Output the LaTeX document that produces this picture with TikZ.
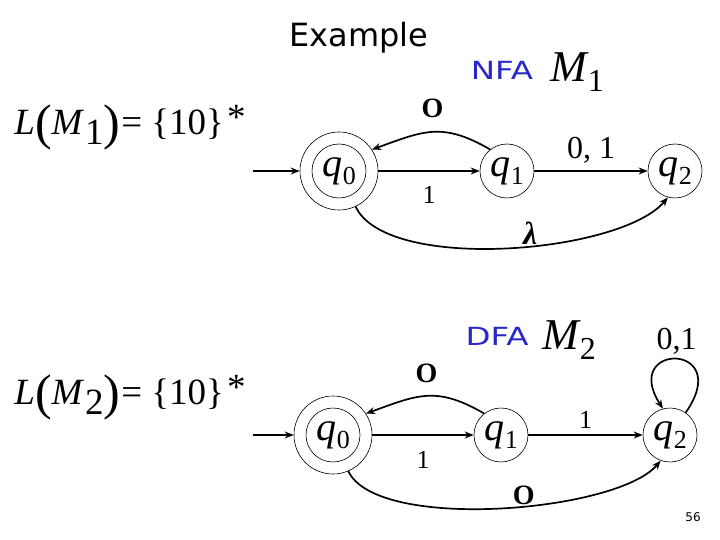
\documentclass[tikz,border=0pt]{standalone}
\usepackage{fontspec}
\setmainfont{Liberation Serif}
\newfontfamily\comicfont{DejaVu Sans}
\usetikzlibrary{arrows.meta}
\definecolor{titleblue}{RGB}{40,40,200}
\newcommand\fsz[1]{\fontsize{#1}{#1}\selectfont}
\newcommand\stname[1]{\textit{q}\kern0.5pt\raisebox{-8pt}{\fsz{26}#1}}
\newcommand\lang[1]{\textit{L}\raisebox{-5pt}{\fsz{50}(}\textit{M}\kern1pt\raisebox{-10pt}{#1}\raisebox{-5pt}{\fsz{50})}\kern1pt= \{10\}\kern3pt\raisebox{5pt}{*}}
\tikzset{
  x=1pt, y=-1pt,
  stnode/.style={circle, draw, line width=0.6pt, minimum size=54pt, inner sep=0pt, font=\fsz{40}},
  accnode/.style={circle, draw, line width=0.6pt, minimum size=78pt, inner sep=0pt},
  arr/.style={line width=1.7pt, -{Stealth[length=9pt,width=7pt]}},
  bitlbl/.style={font=\fsz{26}},
  zerolbl/.style={font=\bfseries\fsz{28}},
  pairlbl/.style={font=\fsz{32}},
  eqn/.style={font=\fsz{37}, inner sep=0pt},
  machlbl/.style={font=\itshape\fsz{44}, inner sep=0pt},
  kindlbl/.style={font=\comicfont\fsz{25}, text=titleblue, inner sep=0pt},
}
\begin{document}
\begin{tikzpicture}
\useasboundingbox (0,0) rectangle (720,540);
% titles
\node[font=\comicfont\fsz{32}, inner sep=0pt] (title) at (359,38) {Example};
\node[kindlbl] (nfa) at (502,70) {\scalebox{1.3}[1]{NFA}};
\node[machlbl] (m1) at (577,72) {M\kern1pt\raisebox{-10pt}{\upshape\fsz{32}1}};
\node[kindlbl] (dfa) at (497,336) {\scalebox{1.3}[1]{DFA}};
\node[machlbl] (m2) at (569,340) {M\kern1pt\raisebox{-10pt}{\upshape\fsz{32}2}};
\node[eqn] (eq1) at (130,127) {\lang{1}};
\node[eqn] (eq2) at (130,397) {\lang{2}};
\node[font=\comicfont\fsz{12}, inner sep=0pt] (page) at (693,517) {56};

% NFA
\node[accnode] (a0) at (339,171) {};
\node[stnode] (a0i) at (a0) {\stname{0}};
\node[stnode] (a1) at (507,171) {\stname{1}};
\node[stnode] (a2) at (675,171) {\stname{2}};
\coordinate (ainit) at (253,171);
\draw[arr] (ainit) -- (a0);
\draw[arr] (a0) -- node[bitlbl, below=11pt] {1} (a1);
\draw[arr] (a1) -- node[pairlbl, above=3pt] {0, 1} (a2);
\draw[arr] (a1.128) to[out=150, in=20, looseness=1.2] node[zerolbl, above=10pt] {O} (a0.33);
\draw[arr] (a0.-65) to[out=-65, in=-130, looseness=0.6] node[font=\itshape\bfseries\fsz{32}, pos=0.56, above=-3pt] {λ} (a2.-105);

% DFA
\node[accnode] (b0) at (333,435) {};
\node[stnode] (b0i) at (b0) {\stname{0}};
\node[stnode] (b1) at (501,435) {\stname{1}};
\node[stnode] (b2) at (670,435) {\stname{2}};
\coordinate (binit) at (253,435);
\draw[arr] (binit) -- (b0);
\draw[arr] (b0) -- node[bitlbl, below=12pt] {1} (b1);
\draw[arr] (b1) -- node[bitlbl, above=2pt] {1} (b2);
\draw[arr] (b1.128) to[out=150, in=20, looseness=1.2] node[zerolbl, above=9pt] {O} (b0.33);
\draw[arr] (b0.-67) to[out=-65, in=-130, looseness=0.55] node[zerolbl, pos=0.56, above=-3pt] {O} (b2.-110);
\draw[arr] (b2.55) .. controls (735,342) and (620,342) .. node[pairlbl, above=1pt] {0,1} (b2.105);
\end{tikzpicture}
\end{document}
